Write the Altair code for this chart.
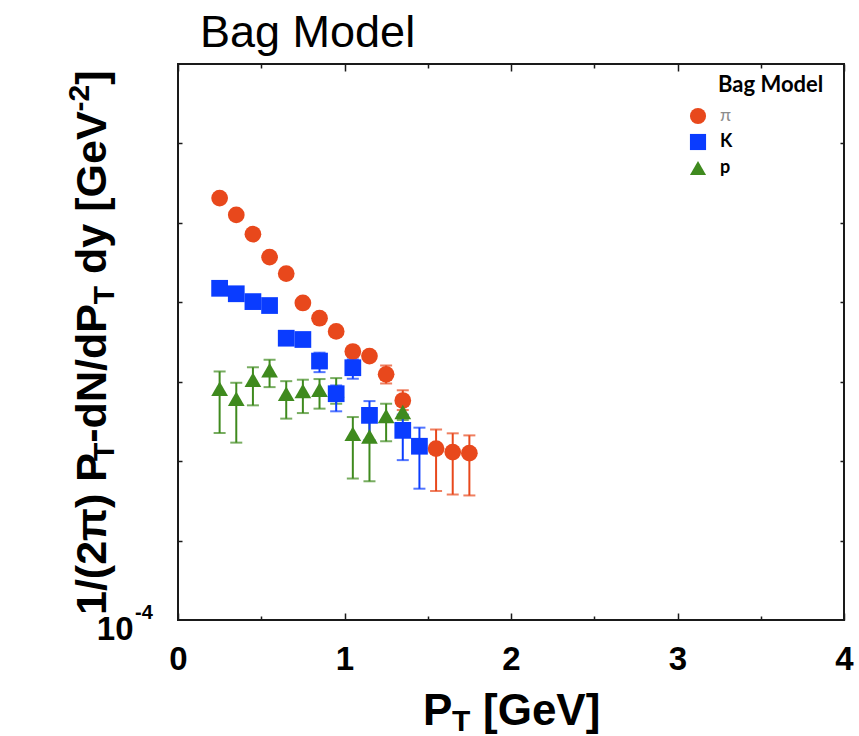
import altair as alt
import pandas as pd

# ---------------- data ----------------
SPECIES = ["π", "K", "p"]
COLORS = ["#e8481c", "#0a3cff", "#3f8a1e"]
SHAPES = ["circle", "square", "triangle-up"]

pi_pt = [0.25, 0.35, 0.45, 0.55, 0.65, 0.75, 0.85, 0.95, 1.05, 1.15, 1.25, 1.35, 1.55, 1.65, 1.75]
pi_y = [20.5, 12.6, 7.2, 3.7, 2.3, 0.98, 0.63, 0.43, 0.24, 0.21, 0.124, 0.058, 0.0144, 0.0130, 0.0126]
pi_lo = [19.5, 12.0, 6.9, 3.5, 2.2, 0.93, 0.60, 0.41, 0.228, 0.198, 0.095, 0.044, 0.0042, 0.0038, 0.0037]
pi_hi = [21.5, 13.2, 7.5, 3.9, 2.4, 1.03, 0.66, 0.45, 0.252, 0.222, 0.160, 0.078, 0.0251, 0.0224, 0.0211]

k_pt = [0.25, 0.35, 0.45, 0.55, 0.65, 0.75, 0.85, 0.95, 1.05, 1.15, 1.35, 1.45]
k_y = [1.50, 1.28, 1.02, 0.91, 0.353, 0.340, 0.182, 0.0706, 0.150, 0.0377, 0.0244, 0.0154]
k_lo = [1.42, 1.21, 0.97, 0.86, 0.335, 0.323, 0.132, 0.0424, 0.109, 0.0184, 0.0103, 0.0045]
k_hi = [1.58, 1.35, 1.07, 0.96, 0.371, 0.357, 0.232, 0.0897, 0.191, 0.0570, 0.0385, 0.0264]

p_pt = [0.25, 0.35, 0.45, 0.55, 0.65, 0.75, 0.85, 0.95, 1.05, 1.15, 1.25, 1.35]
p_y = [0.0817, 0.0611, 0.106, 0.139, 0.0706, 0.0762, 0.0792, 0.0778, 0.0222, 0.0205, 0.0370, 0.0415]
p_lo = [0.0226, 0.0171, 0.0504, 0.0855, 0.0343, 0.0403, 0.0458, 0.0528, 0.00604, 0.00558, 0.0178, 0.033]
p_hi = [0.1346, 0.097, 0.152, 0.189, 0.1016, 0.106, 0.108, 0.111, 0.0359, 0.0354, 0.0528, 0.050]

X_LABELS = [0, 1, 2, 3, 4]
X_TICKS = [0, 0.5, 1, 1.5, 2, 2.5, 3, 3.5, 4]
Y_LABELS = [1e-4]
Y_TICKS = [1e-3, 1e-2, 1e-1, 1, 10, 100]

rows = []
for sp, a, b, c, d in [("π", pi_pt, pi_y, pi_lo, pi_hi),
                       ("p", p_pt, p_y, p_lo, p_hi),
                       ("K", k_pt, k_y, k_lo, k_hi)]:
    for x, v, lo, hi in zip(a, b, c, d):
        rows.append({"sp": sp, "pt": x, "val": v, "lo": lo, "hi": hi})
df = pd.DataFrame(rows)

# ---------------- layout ----------------
W, H = 666, 556
FONT = "Liberation Sans"
INK = "#1a1a1a"

xs = alt.Scale(domain=[0, 4], nice=False, zero=False)
ys = alt.Scale(type="log", domain=[1e-4, 1e3], nice=False)
cs = alt.Scale(domain=SPECIES, range=COLORS)
ss = alt.Scale(domain=SPECIES, range=SHAPES)

xtick_size = {"condition": {"test": "datum.value % 1 === 0", "value": 7}, "value": 4}

legend = alt.Legend(
    title=None, orient="none", legendX=511, legendY=43, padding=0,
    symbolSize=260, symbolStrokeWidth=0, symbolOpacity=1,
    labelFont="Lato", labelFontSize=18,
    labelFontWeight={"expr": "datum.label == 'π' ? 'normal' : 'bold'"},
    labelColor={"expr": "datum.label == 'π' ? '#8c8c8c' : 'black'"},
    labelOffset=13, rowPadding=8,
)

err = alt.Chart(df).mark_errorbar(ticks=True, size=12, thickness=2).encode(
    x=alt.X("pt:Q", scale=xs, axis=None),
    y=alt.Y("lo:Q", scale=ys, axis=None),
    y2="hi:Q",
    color=alt.Color("sp:N", scale=cs, legend=legend),
)

pts = alt.Chart(df).mark_point(filled=True, opacity=1, size=280).encode(
    x=alt.X("pt:Q", scale=xs, axis=alt.Axis(
        values=X_LABELS, format="d", title=None, ticks=False, tickSize=0, domain=False,
        grid=False, labelFont=FONT, labelFontSize=33, labelFontWeight="bold",
        labelColor="black", labelPadding=23, labelFlush=False)),
    y=alt.Y("val:Q", scale=ys, axis=alt.Axis(
        values=Y_LABELS, labelExpr="'10'", title=None, ticks=False, tickSize=0, domain=False,
        grid=False, labelFont=FONT, labelFontSize=33, labelFontWeight="bold",
        labelColor="black", labelPadding=45, labelOffset=9, labelBaseline="middle")),
    color=alt.Color("sp:N", scale=cs, legend=legend),
    shape=alt.Shape("sp:N", scale=ss, legend=legend),
)

# inward ticks on bottom & left edges
tick_a = alt.Chart(df).mark_point(opacity=0).encode(
    x=alt.X("pt:Q", scale=xs, axis=alt.Axis(
        orient="top", offset=-H, values=X_TICKS, labels=False, title=None, domain=False,
        grid=False, tickColor=INK, tickWidth=1.5, tickSize=xtick_size)),
    y=alt.Y("val:Q", scale=ys, axis=alt.Axis(
        orient="right", offset=-W, values=Y_TICKS, labels=False, title=None, domain=False,
        grid=False, tickColor=INK, tickWidth=1.5, tickSize=4)),
)
# inward ticks on top & right edges
tick_b = alt.Chart(df).mark_point(opacity=0).encode(
    x=alt.X("pt:Q", scale=xs, axis=alt.Axis(
        orient="bottom", offset=-H, values=X_TICKS, labels=False, title=None, domain=False,
        grid=False, tickColor=INK, tickWidth=1.5, tickSize=xtick_size)),
    y=alt.Y("val:Q", scale=ys, axis=alt.Axis(
        orient="left", offset=-W, values=Y_TICKS, labels=False, title=None, domain=False,
        grid=False, tickColor=INK, tickWidth=1.5, tickSize=4)),
)

one = pd.DataFrame({"k": [0]})


def txt(s, x, y, size, angle=0, weight="bold", font=FONT, color="black"):
    kw = dict(text=s, fontSize=size, fontWeight=weight, font=font, color=color,
              align="left", baseline="alphabetic")
    if angle:
        kw["angle"] = angle
    return alt.Chart(one).mark_text(**kw).encode(x=alt.value(x), y=alt.value(y))


texts = [
    # chart title
    txt("Bag Model", 22, -17, 45, weight="normal"),
    # legend header
    txt("Bag Model", 540, 28, 22, font="Lato"),
    # superscript of 10^-4
    txt("-4", -43, 555, 20),
    # x title  P_T [GeV]
    txt("P", 245, 661, 44),
    txt("T", 274, 667, 30),
    txt("[GeV]", 305, 661, 44),
    # y title  1/(2π) P_T-dN/dP_T dy [GeV^-2]
    txt("1/(2π) P", -72, 551, 43, angle=270),
    txt("T", -64, 397, 30, angle=270),
    txt("-dN/dP", -72, 378.7, 43, angle=270),
    txt("T", -64, 240.2, 30, angle=270),
    txt("dy [GeV", -72, 209.9, 43, angle=270),
    txt("-2", -89, 47.4, 30, angle=270),
    txt("]", -72, 20.7, 43, angle=270),
]

chart = alt.layer(err, pts, tick_a, tick_b, *texts).resolve_axis(
    x="independent", y="independent"
).properties(
    width=W, height=H,
    autosize=alt.AutoSizeParams(type="none"),
    padding={"left": 178, "top": 64, "right": 15, "bottom": 116},
).configure_view(stroke=INK, strokeWidth=2)

chart.save("out.html", embed_options={"renderer": "svg", "actions": False})
